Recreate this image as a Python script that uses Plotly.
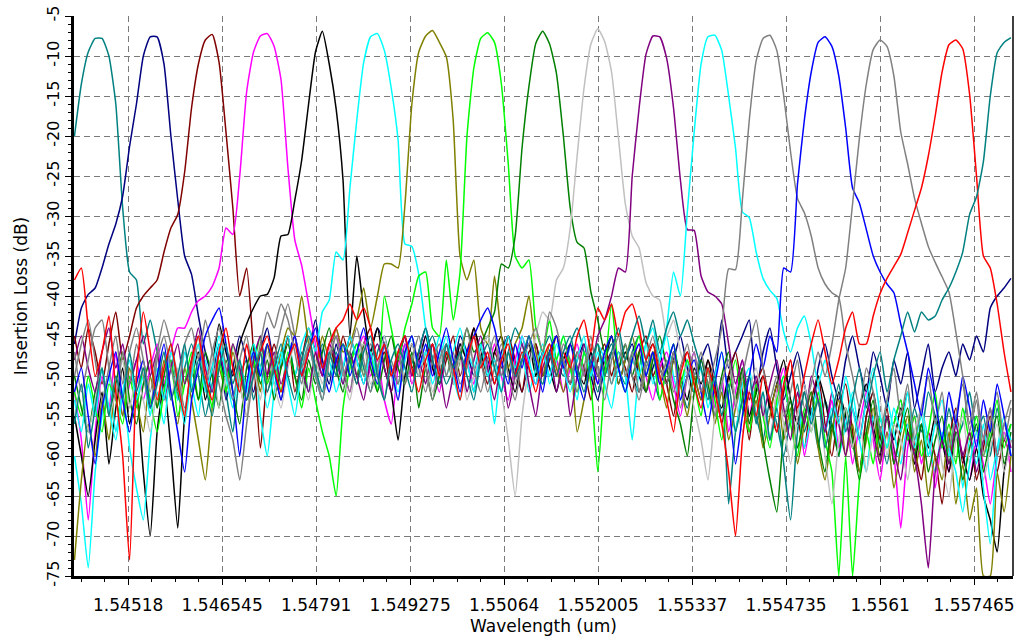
import plotly.graph_objects as go

# ---------------- data ----------------
WL_START = 1.5444      # um, first sample of the sweep
WL_STEP = 0.0001       # um, sweep step
N_POINTS = 137
wavelength = [round(WL_START + WL_STEP * i, 5) for i in range(N_POINTS)]

X_TICKS = [1.54518, 1.546545, 1.54791, 1.549275, 1.55064,
           1.552005, 1.55337, 1.554735, 1.5561, 1.557465]
X_TICK_LABELS = ["1.54518", "1.546545", "1.54791", "1.549275", "1.55064",
                 "1.552005", "1.55337", "1.554735", "1.5561", "1.557465"]
Y_TICKS = [-75, -70, -65, -60, -55, -50, -45, -40, -35, -30, -25, -20, -15, -10, -5]
Y_TICK_LABELS = ["-75", "-70", "-65", "-60", "-55", "-50", "-45", "-40",
                 "-35", "-30", "-25", "-20", "-15", "-10", "-5"]

ch01 = [-20, -13.5, -9.5, -7.8, -7.8, -10, -16, -29, -37, -38,
        -46, -43, -47, -51, -48, -53, -49, -46, -50, -55,
        -51, -47, -52, -57, -50, -48, -53, -49, -46, -51,
        -48, -45, -50, -47, -52, -49, -46, -50, -47, -51,
        -48, -46, -49, -52, -47, -45, -49, -51, -46, -48,
        -50, -47, -45, -48, -51, -49, -46, -48, -52, -47,
        -45, -48, -50, -47, -44, -46, -49, -51, -47, -45,
        -48, -50, -46, -44, -47, -49, -52, -48, -46, -49,
        -51, -47, -45, -48, -50, -53, -49, -46, -51, -54,
        -50, -48, -52, -55, -51, -66, -57, -53, -50, -55,
        -58, -53, -56, -60, -55, -51, -57, -54, -59, -53,
        -56, -60, -54, -58, -62, -55, -52, -57, -61, -56,
        -53, -58, -54, -57, -52, -55, -59, -54, -58, -56,
        -52, -57, -55, -60, -54, -58, -56]

ch02 = [-46, -41.5, -39.8, -39, -36.5, -33.5, -31, -27.5, -21.3, -16,
        -10, -7.6, -7.6, -11, -20, -28, -35, -37.3, -42.5, -47,
        -50, -46, -53, -49, -45, -48, -52, -47, -44, -49,
        -53, -48, -45, -50, -47, -43, -48, -51, -46, -49,
        -45, -48, -51, -47, -44, -46, -50, -48, -45, -49,
        -47, -44, -48, -51, -46, -49, -45, -47, -50, -46,
        -48, -51, -47, -45, -49, -52, -48, -46, -50, -47,
        -45, -49, -51, -48, -46, -50, -53, -49, -47, -51,
        -48, -46, -50, -52, -49, -47, -51, -48, -45, -49,
        -52, -48, -46, -50, -43, -49, -47, -45, -43, -52,
        -47, -44, -49, -53, -50, -47, -51, -55, -49, -46,
        -50, -53, -48, -45, -49, -52, -47, -50, -54, -48,
        -51, -47, -54, -50, -46, -52, -49, -47, -50, -46,
        -48, -45, -47, -41.5, -40, -39, -37.8]

ch03 = [-45, -49, -44, -47, -51, -46, -42, -48, -45, -41.5,
        -40, -39, -38, -34.5, -31.5, -29.8, -24.5, -16.5, -11, -8,
        -7.3, -10.8, -19.5, -29, -40, -36.5, -47, -59, -50, -46,
        -49, -45, -52, -48, -44, -47, -50, -46, -49, -45,
        -48, -51, -46, -44, -49, -47, -52, -48, -45, -50,
        -47, -49, -46, -51, -48, -45, -50, -47, -44, -48,
        -51, -47, -49, -45, -48, -52, -47, -46, -50, -48,
        -45, -48, -51, -47, -49, -53, -48, -46, -50, -47,
        -49, -52, -47, -45, -50, -48, -51, -55, -49, -47,
        -50, -53, -48, -51, -56, -50, -47, -52, -58, -51,
        -49, -54, -57, -52, -48, -55, -59, -53, -50, -56,
        -60, -54, -51, -57, -62, -55, -52, -58, -54, -61,
        -56, -52, -59, -63, -57, -60, -66, -58, -54, -61,
        -57, -63, -59, -55, -62, -58, -60]

ch04 = [-52, -58, -68, -57, -50, -54, -47, -55, -51, -48,
        -53, -49, -46, -51, -47, -44, -44, -42, -40.6, -40,
        -38.8, -36.5, -31.5, -32.3, -25, -14.5, -9.5, -7.5, -7.2, -8.8,
        -13, -24, -33, -36.2, -41, -46, -50, -47, -44, -49,
        -52, -47, -45, -50, -48, -53, -56, -49, -46, -51,
        -48, -45, -49, -52, -47, -50, -46, -48, -51, -47,
        -49, -46, -50, -53, -48, -45, -49, -51, -47, -50,
        -48, -52, -49, -46, -50, -47, -51, -48, -45, -49,
        -52, -48, -46, -50, -53, -49, -47, -51, -55, -50,
        -47, -52, -49, -54, -50, -57, -52, -48, -55, -51,
        -54, -58, -52, -49, -56, -53, -60, -55, -51, -57,
        -53, -59, -55, -61, -56, -52, -58, -63, -57, -60,
        -69, -59, -55, -61, -57, -64, -58, -62, -56, -60,
        -63, -58, -61, -66, -60, -57, -62]

ch05 = [-55, -60, -65, -58, -52, -61, -54, -49, -56, -52,
        -62, -70, -57, -51, -59, -69, -55, -50, -47, -53,
        -49, -43.5, -47, -50, -46, -43.5, -41.5, -40, -39.8, -37.7,
        -32.5, -32.3, -28, -23, -16, -9.5, -6.9, -11, -16.6, -25.5,
        -45, -35, -42, -47, -44, -49, -52, -58, -50, -46,
        -48, -45, -49, -51, -47, -50, -46, -48, -44, -47,
        -50, -47, -45, -49, -52, -48, -46, -50, -47, -49,
        -52, -48, -46, -49, -51, -47, -50, -48, -45, -49,
        -47, -50, -52, -48, -46, -49, -51, -47, -50, -53,
        -49, -51, -48, -52, -54, -50, -53, -49, -55, -52,
        -50, -54, -51, -48, -53, -56, -52, -55, -50, -53,
        -57, -52, -55, -59, -54, -51, -56, -60, -55, -58,
        -54, -57, -61, -56, -59, -55, -58, -62, -57, -60,
        -63, -59, -65, -68, -72, -62, -58]

ch06 = [-60, -66, -74, -62, -55, -50, -57, -52, -59, -64,
        -68, -58, -52, -56, -49, -53, -47, -51, -55, -48,
        -52, -46, -50, -54, -49, -53, -47, -55, -60, -52,
        -48, -45, -50, -46, -44, -47, -42, -40.5, -34.5, -35.5,
        -26.5, -18, -10.8, -7.6, -7.2, -9.3, -14, -20.5, -33.5, -33.8,
        -37.3, -44, -48, -45, -50, -47, -44, -48, -52, -46,
        -49, -56, -48, -45, -50, -47, -52, -49, -46, -51,
        -48, -45, -49, -53, -47, -50, -46, -48, -51, -47,
        -50, -58, -49, -46, -51, -48, -45, -50, -53, -48,
        -52, -49, -54, -50, -47, -53, -57, -51, -49, -55,
        -52, -58, -54, -50, -56, -53, -59, -55, -51, -57,
        -54, -60, -56, -52, -58, -62, -55, -59, -53, -57,
        -61, -56, -59, -54, -58, -62, -57, -60, -55, -64,
        -58, -61, -56, -63, -59, -55, -60]

ch07 = [-73, -63, -56, -60, -53, -58, -51, -55, -49, -53,
        -57, -50, -54, -48, -52, -56, -49, -53, -58, -63,
        -54, -49, -52, -47, -51, -55, -48, -52, -46, -50,
        -47, -44, -45, -40, -46, -49, -45, -48, -44, -47,
        -46, -43, -39, -44, -40, -36, -36, -36.5, -28.5, -16,
        -9.5, -7.5, -6.8, -8.3, -10.1, -18, -35, -38, -35.5, -44,
        -46, -37.5, -45, -49, -46, -44, -40, -47, -50, -46,
        -49, -52, -48, -57, -53, -49, -46, -50, -47, -51,
        -48, -45, -49, -52, -47, -50, -54, -48, -51, -55,
        -50, -53, -49, -56, -52, -58, -54, -50, -57, -53,
        -59, -55, -51, -58, -54, -61, -56, -52, -59, -63,
        -57, -53, -60, -56, -62, -58, -54, -61, -57, -64,
        -59, -55, -62, -58, -65, -60, -63, -57, -66, -61,
        -68, -64, -75, -75, -62, -67, -60]

ch08 = [-52, -55, -50, -54, -57, -51, -53, -56, -50, -54,
        -49, -53, -57, -52, -48, -55, -51, -47, -53, -50,
        -54, -48, -52, -46, -50, -53, -49, -45, -51, -48,
        -52, -47, -50, -54, -49, -53, -57, -60, -65, -54,
        -49, -46, -50, -47, -52, -40, -44, -48, -44, -41,
        -37.5, -37, -44, -45, -35.5, -43, -37, -20, -11.5, -7.8,
        -7.1, -8.3, -13.5, -23.5, -35, -36.5, -35.5, -44, -47, -43,
        -48, -45, -49, -52, -47, -51, -62, -50, -41, -49,
        -52, -48, -45, -50, -47, -53, -49, -46, -51, -48,
        -51, -55, -49, -53, -58, -52, -48, -54, -57, -51,
        -55, -59, -53, -50, -56, -60, -54, -57, -52, -58,
        -62, -75, -60, -75, -63, -57, -61, -55, -59, -56,
        -53, -58, -55, -60, -57, -52, -59, -56, -61, -54,
        -58, -55, -60, -57, -53, -59, -56]

ch09 = [-50, -54, -57, -52, -49, -55, -51, -47, -53, -56,
        -51, -48, -54, -50, -46, -52, -55, -49, -53, -47,
        -50, -54, -48, -52, -56, -49, -46, -51, -48, -53,
        -49, -46, -50, -53, -48, -51, -47, -44, -49, -52,
        -47, -50, -46, -49, -52, -48, -45, -49, -51, -47,
        -54, -49, -53, -50, -47, -51, -48, -44, -47, -46,
        -44, -42, -36, -36.5, -32.5, -21.5, -13.8, -8.4, -6.9, -8.5,
        -12.2, -20, -29, -33.3, -34, -39.5, -43, -47, -45, -49,
        -46, -50, -47, -52, -48, -45, -49, -53, -56, -60,
        -52, -48, -51, -55, -50, -47, -53, -49, -56, -52,
        -58, -63, -67, -57, -53, -59, -55, -52, -58, -62,
        -56, -60, -54, -58, -63, -57, -53, -59, -55, -61,
        -57, -54, -60, -56, -62, -58, -55, -61, -57, -63,
        -59, -56, -62, -58, -55, -61, -57]

ch10 = [-55, -51, -57, -53, -49, -55, -52, -48, -54, -50,
        -53, -57, -51, -47, -53, -49, -55, -50, -46, -52,
        -48, -54, -50, -46, -51, -55, -49, -53, -47, -51,
        -54, -49, -46, -50, -53, -48, -51, -47, -45, -50,
        -53, -48, -46, -51, -49, -45, -50, -53, -48, -46,
        -50, -47, -52, -49, -46, -51, -48, -53, -50, -47,
        -45, -49, -52, -58, -65, -55, -49, -45, -42, -43,
        -38, -36.5, -31.5, -22.5, -14, -8.5, -6.6, -8.2, -12, -20.2,
        -28.5, -32.5, -34, -38.3, -40, -40.5, -45, -43, -47, -50,
        -54, -58, -63, -55, -51, -48, -53, -57, -52, -49,
        -54, -58, -52, -56, -61, -55, -51, -57, -53, -60,
        -66, -58, -54, -59, -55, -62, -57, -53, -60, -56,
        -58, -63, -57, -54, -60, -56, -61, -65, -58, -55,
        -61, -57, -63, -59, -56, -62, -58]

ch11 = [-48, -45, -49, -52, -47, -44, -49, -46, -51, -48,
        -45, -50, -47, -53, -49, -46, -51, -48, -44, -49,
        -52, -47, -50, -46, -49, -53, -48, -45, -50, -47,
        -51, -48, -45, -49, -52, -47, -50, -46, -48, -51,
        -47, -50, -53, -48, -46, -49, -52, -47, -45, -50,
        -48, -51, -46, -49, -54, -50, -47, -52, -48, -45,
        -49, -53, -48, -54, -50, -46, -51, -55, -49, -47,
        -52, -48, -55, -50, -46, -49, -45, -43, -40, -36.5,
        -37, -25, -16.5, -9.8, -7.5, -7.6, -10.3, -16.5, -25.5, -31.7,
        -31.8, -37.5, -39.5, -40, -41, -46, -51, -48, -53, -50,
        -55, -51, -48, -54, -58, -52, -56, -50, -53, -57,
        -52, -56, -60, -54, -58, -53, -57, -61, -55, -59,
        -63, -57, -60, -66, -74, -62, -58, -61, -56, -60,
        -57, -62, -58, -54, -60, -56, -59]

ch12 = [-53, -57, -51, -55, -49, -54, -58, -52, -48, -53,
        -50, -55, -49, -53, -47, -51, -56, -50, -46, -52,
        -49, -45, -50, -53, -48, -52, -46, -49, -54, -50,
        -47, -51, -55, -49, -46, -50, -53, -48, -52, -49,
        -45, -48, -51, -47, -50, -46, -49, -52, -48, -45,
        -49, -47, -51, -48, -45, -50, -53, -47, -49, -46,
        -50, -48, -52, -47, -49, -45, -48, -51, -47, -50,
        -46, -49, -52, -48, -45, -50, -47, -51, -54, -49,
        -52, -48, -50, -46, -44, -48, -44, -37, -40, -29.5,
        -19.5, -11, -7.6, -7.4, -9.3, -15, -21.5, -29.5, -30.2, -34.5,
        -37.8, -39.3, -40.3, -44.5, -47, -44, -42.5, -46, -51, -48,
        -52, -56, -50, -54, -58, -53, -49, -55, -59, -54,
        -57, -52, -58, -55, -60, -56, -53, -59, -62, -67,
        -61, -57, -64, -71, -60, -56, -58]

ch13 = [-47, -52, -48, -44, -43, -49, -53, -47, -51, -46,
        -50, -54, -48, -45, -49, -52, -46, -44, -48, -43,
        -47, -51, -55, -58, -63, -56, -50, -47, -52, -48,
        -44, -41, -45, -49, -46, -50, -53, -48, -45, -49,
        -52, -47, -50, -46, -49, -53, -48, -51, -47, -45,
        -49, -52, -48, -46, -50, -47, -51, -49, -45, -48,
        -52, -49, -46, -50, -53, -48, -45, -49, -51, -47,
        -50, -46, -48, -52, -49, -45, -50, -47, -51, -48,
        -46, -50, -53, -49, -47, -51, -48, -52, -49, -46,
        -50, -47, -51, -48, -44, -36.6, -36.7, -28, -18, -10.6,
        -7.8, -7.4, -9.3, -15, -22, -27.8, -29.6, -32.5, -36.5, -38.5,
        -39.6, -40.2, -46, -50, -54, -49, -52, -57, -53, -49,
        -55, -51, -58, -54, -50, -56, -52, -59, -55, -51,
        -57, -53, -60, -56, -52, -58, -54]

ch14 = [-52, -49, -55, -61, -54, -50, -47, -53, -57, -51,
        -48, -54, -50, -46, -52, -57, -62, -53, -49, -45,
        -43, -41.5, -46, -52, -60, -51, -47, -50, -46, -49,
        -53, -48, -45, -50, -47, -44, -49, -52, -48, -46,
        -50, -47, -44, -48, -51, -46, -49, -53, -47, -45,
        -49, -46, -50, -47, -44, -48, -52, -47, -45, -43,
        -41.5, -44, -48, -51, -46, -49, -45, -48, -52, -47,
        -45, -49, -46, -50, -53, -48, -51, -47, -45, -49,
        -52, -48, -46, -50, -47, -51, -49, -46, -53, -50,
        -48, -52, -56, -51, -47, -53, -61, -55, -50, -46,
        -49, -45, -47, -36.5, -37, -26, -18, -12, -8.3, -7.6,
        -8.8, -12.5, -19, -26.5, -28.4, -31.7, -35, -37, -38.5, -39.6,
        -43.5, -47, -51, -55, -49, -53, -58, -52, -56, -50,
        -54, -59, -53, -57, -51, -55, -60]

ch15 = [-50, -46, -43, -48, -53, -49, -45, -51, -47, -44,
        -48, -52, -47, -43, -46, -50, -54, -49, -45, -51,
        -47, -44, -49, -53, -48, -45, -50, -46, -42, -44,
        -41, -43, -47, -51, -46, -49, -53, -48, -45, -50,
        -47, -44, -48, -52, -49, -46, -50, -47, -51, -48,
        -45, -49, -53, -48, -46, -50, -47, -44, -49, -52,
        -48, -45, -50, -47, -51, -48, -46, -44, -47, -42,
        -44, -48, -51, -47, -50, -46, -49, -53, -48, -45,
        -50, -47, -52, -48, -45, -49, -51, -47, -54, -50,
        -47, -52, -49, -55, -51, -48, -54, -50, -46, -43,
        -49, -53, -50, -55, -52, -48, -54, -51, -47, -50,
        -46, -40.5, -36.5, -28.5, -20.2, -13.5, -9.2, -8, -8.8, -12.5,
        -19.5, -23.5, -27.8, -30.9, -33.8, -35.8, -37.6, -39.5, -44.5, -50,
        -56, -52, -58, -54, -60, -56, -53]

ch16 = [-38, -36.5, -44, -50, -47, -42.5, -52, -60, -73, -50,
        -42, -47, -53, -49, -46, -51, -55, -48, -45, -50,
        -53, -47, -44, -49, -52, -46, -50, -47, -45, -49,
        -52, -48, -46, -50, -47, -45, -49, -46, -44, -43,
        -41, -43, -41.5, -44, -48, -46, -50, -47, -45, -49,
        -52, -48, -46, -50, -47, -49, -53, -48, -45, -49,
        -47, -51, -48, -46, -50, -47, -49, -52, -48, -46,
        -50, -47, -49, -45, -43, -47, -41.5, -43, -41, -45,
        -42, -41, -44, -48, -46, -50, -53, -57, -50, -47,
        -51, -54, -49, -52, -56, -62, -70, -58, -52, -55,
        -50, -53, -57, -51, -48, -54, -50, -46, -43, -47,
        -51, -48, -44, -42, -46, -46, -42.5, -39.7, -37.8, -36.3,
        -34.8, -32.1, -29.3, -26.5, -22.5, -17.5, -12, -8.6, -8.0, -9.1,
        -14.8, -25, -35, -36.5, -41, -47, -52]

ch17 = [-56, -51, -59, -54, -49, -55, -50, -53, -47, -52,
        -49, -54, -51, -47, -53, -50, -46, -52, -48, -51,
        -55, -49, -46, -51, -48, -53, -50, -47, -52, -49,
        -46, -50, -53, -48, -45, -49, -52, -47, -50, -46,
        -48, -51, -47, -45, -50, -53, -48, -46, -49, -52,
        -47, -44, -48, -51, -46, -49, -47, -50, -53, -48,
        -46, -49, -52, -47, -50, -48, -45, -49, -51, -47,
        -50, -47, -45, -49, -52, -48, -46, -50, -47, -44,
        -48, -45, -42.5, -46, -43, -47, -44, -42, -45, -43,
        -46, -49, -53, -50, -55, -51, -57, -53, -50, -56,
        -52, -58, -54, -61, -68, -57, -52, -56, -53, -59,
        -55, -51, -57, -53, -49, -54, -50, -47, -52, -48,
        -45, -42, -44.5, -42, -43, -42.5, -40.5, -39, -37, -34.5,
        -29.8, -27.6, -23.2, -15, -9.6, -8.3, -7.7]

channels = [ch01, ch02, ch03, ch04, ch05, ch06, ch07, ch08, ch09,
            ch10, ch11, ch12, ch13, ch14, ch15, ch16, ch17]

# ---------------- style ----------------
COLORS = ["#008080", "#000080", "#800000", "#FF00FF", "#000000", "#00FFFF",
          "#808000", "#00FF00", "#008000", "#C0C0C0", "#800080", "#00FFFF",
          "#808080", "#0000FF", "#808080", "#FF0000", "#008080"]

fig = go.Figure()
for vals, col in zip(channels, COLORS):
    fig.add_trace(go.Scatter(
        x=wavelength[:len(vals)], y=vals, mode="lines",
        line=dict(color=col, width=1.5, shape="spline", smoothing=0.5),
        hoverinfo="skip", showlegend=False))

FONT = "DejaVu Sans"
fig.update_layout(
    width=1021, height=644,
    margin=dict(l=74, r=6, t=16, b=68),
    paper_bgcolor="white", plot_bgcolor="white",
    showlegend=False,
    font=dict(family=FONT, size=17, color="black"),
)
fig.update_xaxes(
    range=[1.544393, 1.55803],
    tickmode="array", tickvals=X_TICKS, ticktext=X_TICK_LABELS,
    tickfont=dict(family=FONT, size=17, color="black"),
    showgrid=True, gridcolor="#7a7a7a", gridwidth=1.3, griddash="6px,4px",
    zeroline=False,
    showline=True, linecolor="black", linewidth=3,
    ticks="outside", ticklen=6, tickwidth=1, tickcolor="black",
    ticklabelstandoff=6,
    minor=dict(ticks="outside", ticklen=3, tickwidth=1, tickcolor="black",
               tick0=X_TICKS[0], dtick=0.00034125, showgrid=False),
    title=dict(text="Wavelength (um)", font=dict(family=FONT, size=17, color="black"),
               standoff=6),
)
fig.update_yaxes(
    range=[-75, -5],
    tickmode="array", tickvals=Y_TICKS, ticktext=Y_TICK_LABELS,
    tickangle=-90,
    tickfont=dict(family=FONT, size=16, color="black"),
    showgrid=True, gridcolor="#7a7a7a", gridwidth=1.3, griddash="6px,4px",
    zeroline=False,
    showline=True, linecolor="black", linewidth=3,
    ticks="outside", ticklen=6, tickwidth=1, tickcolor="black",
    minor=dict(ticks="outside", ticklen=3, tickwidth=1, tickcolor="black",
               tick0=-75, dtick=1, showgrid=False),
    title=dict(text="Insertion Loss (dB)", font=dict(family=FONT, size=17, color="black"),
               standoff=12),
)
fig.add_shape(type="line", xref="paper", yref="paper", x0=1, x1=1, y0=0, y1=1,
              line=dict(color="black", width=1.5))

fig.write_html("out.html", config={"displayModeBar": False},
               post_script="document.body.style.margin='0px';")
